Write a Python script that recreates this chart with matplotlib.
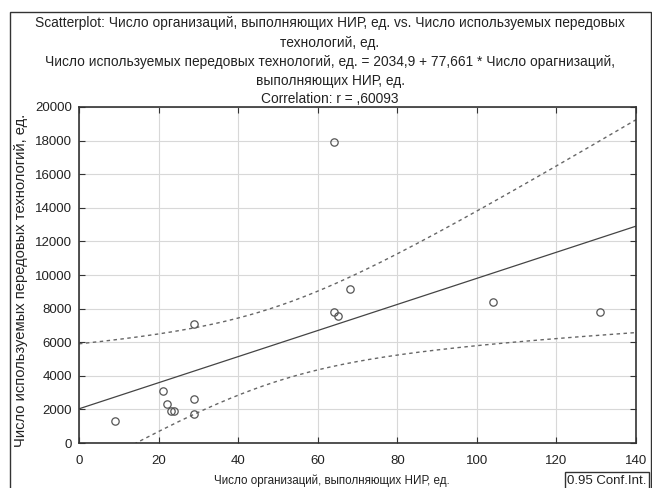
import numpy as np
import matplotlib
matplotlib.use("Agg")
import matplotlib.pyplot as plt
from matplotlib.patches import Rectangle

plt.rcParams['font.family'] = ['Liberation Sans', 'DejaVu Sans']

# Data
org_x = [9, 21, 22, 23, 24, 29, 29, 29, 64, 64, 65, 68, 104, 131]
tech_y = [1330, 3100, 2320, 1925, 1925, 2620, 1730, 7100, 17935, 7800, 7580, 9190, 8390, 7800]

intercept = 2034.9
slope = 77.661

title_lines = [
    "Scatterplot: Число организаций, выполняющих НИР, ед. vs. Число используемых передовых",
    "технологий, ед.",
    "Число используемых передовых технологий, ед. = 2034,9 + 77,661 * Число орагнизаций,",
    "выполняющих НИР, ед.",
    "Correlation: r = ,60093",
]
xlabel = "Число организаций, выполняющих НИР, ед."
ylabel = "Число используемых передовых технологий, ед."
xticks = [0, 20, 40, 60, 80, 100, 120, 140]
yticks = [0, 2000, 4000, 6000, 8000, 10000, 12000, 14000, 16000, 18000, 20000]

W, H = 652, 488
fig = plt.figure(figsize=(W / 100, H / 100), dpi=100)
ax = fig.add_axes([79 / W, 1 - 443 / H, (636 - 79) / W, (443 - 107) / H])

x = np.array(org_x, float)
y = np.array(tech_y, float)
n = len(x)
xs = np.linspace(0, 140, 300)
resid = y - (intercept + slope * x)
s = np.sqrt(np.sum(resid ** 2) / (n - 2))
t = 2.1788
se = s * np.sqrt(1 / n + (xs - x.mean()) ** 2 / np.sum((x - x.mean()) ** 2))
line = intercept + slope * xs

ax.plot(xs, line, color='#444444', lw=0.9)
ax.plot(xs, line + t * se, color='#666666', lw=1.0, ls=(0, (2.5, 2.5)))
ax.plot(xs, line - t * se, color='#666666', lw=1.0, ls=(0, (2.5, 2.5)))
ax.plot(x, y, 'o', mfc='none', mec='#555555', ms=5.3, mew=0.9)

ax.set_xlim(0, 140)
ax.set_ylim(0, 20000)
ax.set_xticks(xticks)
ax.set_yticks(yticks)
ax.grid(True, color='#d8d8d8', lw=0.8)
ax.set_axisbelow(True)
ax.tick_params(direction='in', top=True, right=True, length=4, width=0.8,
               labelsize=10, colors='#333333', labelcolor='#222222')
ax.tick_params(axis='x', pad=9)
ax.tick_params(axis='y', pad=5)
for sp in ax.spines.values():
    sp.set_linewidth(1.2)
    sp.set_color('#333333')

ys = [23, 43, 62, 81, 99]
title_texts = []
for txt, yy in zip(title_lines, ys):
    title_texts.append(fig.text(330 / W, 1 - yy / H, txt, ha='center', va='center',
                                fontsize=9.5, color='#222222'))

xl = fig.text(332 / W, 1 - 481 / H, xlabel, ha='center', va='center', fontsize=9.5, color='#222222')
yl = fig.text(21 / W, 1 - 280 / H, ylabel, ha='center', va='center', rotation=90,
              fontsize=10, color='#222222')

# outer frame
fig.patches.append(Rectangle((10 / W, -0.01), (651 - 10) / W, 1.01 - 12 / H, transform=fig.transFigure,
                             fill=False, ec='#333333', lw=1.0))
# conf int box
ci = fig.text(607 / W, 1 - 481 / H, "0.95 Conf.Int.", ha='center', va='center', fontsize=9.5,
              color='#222222',
              bbox=dict(boxstyle='square,pad=0.2', fc='white', ec='#333333', lw=1.0))

# scale text sizes to the widths measured on the reference
fig.canvas.draw()
r = fig.canvas.get_renderer()

def fit(tobj, target, use_height=False):
    bb = tobj.get_window_extent(r)
    cur = bb.height if use_height else bb.width
    size = tobj.get_fontsize() * target / cur
    tobj.set_fontsize(size)
    return size

ts = fit(title_texts[0], 586)
for tt in title_texts[1:]:
    tt.set_fontsize(ts)
fit(xl, 235)
fit(yl, 336, use_height=True)
fit(ci, 80)
lab = ax.get_yticklabels()[-1]
tsz = fit(lab, 37)
ax.tick_params(labelsize=tsz)

fig.savefig("out.png", dpi=100)
